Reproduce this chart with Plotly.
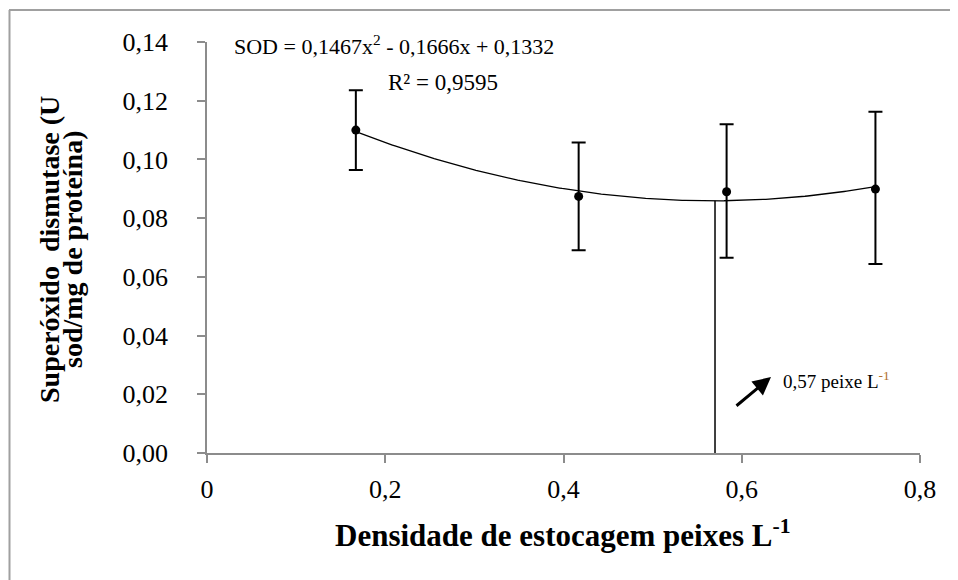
import numpy as np
import plotly.graph_objects as go

# Data
densidade = [0.167, 0.417, 0.583, 0.75]
sod = [0.110, 0.0874, 0.089, 0.0899]
erro_sup = [0.0136, 0.0184, 0.023, 0.0263]
erro_inf = [0.0136, 0.0183, 0.0225, 0.0255]

coef = [0.1467, -0.1666, 0.1332]   # a, b, c of the fitted quadratic
x_otimo = 0.57

y_ticks = [0.00, 0.02, 0.04, 0.06, 0.08, 0.10, 0.12, 0.14]
y_ticktext = ["0,00", "0,02", "0,04", "0,06", "0,08", "0,10", "0,12", "0,14"]
x_ticks = [0, 0.2, 0.4, 0.6, 0.8]
x_ticktext = ["0", "0,2", "0,4", "0,6", "0,8"]

FONT = "Liberation Serif"

# page body has an 8px margin, so the figure is drawn at (8, 8)
W, H = 950, 572
PL, PR, PT, PB = 207, 920, 42, 453   # plot area in screen pixels


def px(X):
    return (X - PL) / (PR - PL)


def py(Y):
    return (PB - Y) / (PB - PT)


xs = np.linspace(min(densidade), max(densidade), 200)
ys = coef[0] * xs**2 + coef[1] * xs + coef[2]
y_otimo = coef[0] * x_otimo**2 + coef[1] * x_otimo + coef[2]

fig = go.Figure()
fig.add_trace(go.Scatter(x=xs, y=ys, mode="lines",
                         line=dict(color="black", width=1.3),
                         hoverinfo="skip", showlegend=False))
fig.add_trace(go.Scatter(x=[x_otimo, x_otimo], y=[0, y_otimo], mode="lines",
                         line=dict(color="black", width=1.5),
                         hoverinfo="skip", showlegend=False))
fig.add_trace(go.Scatter(
    x=densidade, y=sod, mode="markers",
    marker=dict(color="black", size=9),
    error_y=dict(type="data", symmetric=False, array=erro_sup,
                 arrayminus=erro_inf, color="black", thickness=2, width=7),
    showlegend=False))

axis_common = dict(showline=True, linecolor="#8c8c8c", linewidth=1.5,
                   ticks="outside", tickcolor="#8c8c8c", ticklen=8, tickwidth=1.5,
                   showgrid=False, zeroline=False,
                   tickfont=dict(family=FONT, size=26, color="black"))

fig.update_layout(
    width=W, height=H,
    margin=dict(l=PL - 8, r=W - (PR - 8), t=PT - 8, b=H - (PB - 8)),
    paper_bgcolor="white", plot_bgcolor="white",
    xaxis=dict(range=[0, 0.8], tickvals=x_ticks, ticktext=x_ticktext,
               ticklabelstandoff=4, **axis_common),
    yaxis=dict(range=[0, 0.14], tickvals=y_ticks, ticktext=y_ticktext,
               ticklabelstandoff=24, **axis_common),
    font=dict(family=FONT, color="black"),
    shapes=[
        dict(type="line", xref="paper", yref="paper",
             x0=px(9), x1=px(970), y0=py(10), y1=py(10),
             line=dict(color="#a0a0a0", width=2)),
        dict(type="line", xref="paper", yref="paper",
             x0=px(9.5), x1=px(9.5), y0=py(10), y1=py(600),
             line=dict(color="#a0a0a0", width=2)),
    ],
)

fig.add_annotation(xref="paper", yref="paper", x=px(562), y=py(533),
                   xanchor="center", yanchor="middle", showarrow=False,
                   text="<b>Densidade de estocagem peixes L<sup>-1</sup></b>",
                   font=dict(family=FONT, size=31, color="black"))
fig.add_annotation(xref="paper", yref="paper", x=px(49), y=py(250),
                   xanchor="center", yanchor="middle", showarrow=False,
                   textangle=-90,
                   text="<b>Superóxido  dismutase (U</b>",
                   font=dict(family=FONT, size=28, color="black"))
fig.add_annotation(xref="paper", yref="paper", x=px(73), y=py(249),
                   xanchor="center", yanchor="middle", showarrow=False,
                   textangle=-90,
                   text="<b>sod/mg de proteína)</b>",
                   font=dict(family=FONT, size=28, color="black"))
fig.add_annotation(xref="paper", yref="paper", x=px(232), y=py(45),
                   xanchor="left", yanchor="middle", showarrow=False,
                   text="SOD = 0,1467x<sup>2</sup> - 0,1666x + 0,1332",
                   font=dict(family=FONT, size=22, color="black"))
fig.add_annotation(xref="paper", yref="paper", x=px(386), y=py(82),
                   xanchor="left", yanchor="middle", showarrow=False,
                   text="R² = 0,9595",
                   font=dict(family=FONT, size=23, color="black"))
fig.add_annotation(xref="paper", yref="paper", x=px(771), y=py(377),
                   ax=-36, ay=30, text="", showarrow=True,
                   arrowhead=2, arrowsize=1.2, arrowwidth=3, arrowcolor="black")
fig.add_annotation(xref="paper", yref="paper", x=px(781), y=py(380),
                   xanchor="left", yanchor="middle", showarrow=False,
                   text="0,57 peixe L<sup><span style='color:#b0702c'>-1</span></sup>",
                   font=dict(family=FONT, size=19, color="black"))

fig.write_html("out.html")
